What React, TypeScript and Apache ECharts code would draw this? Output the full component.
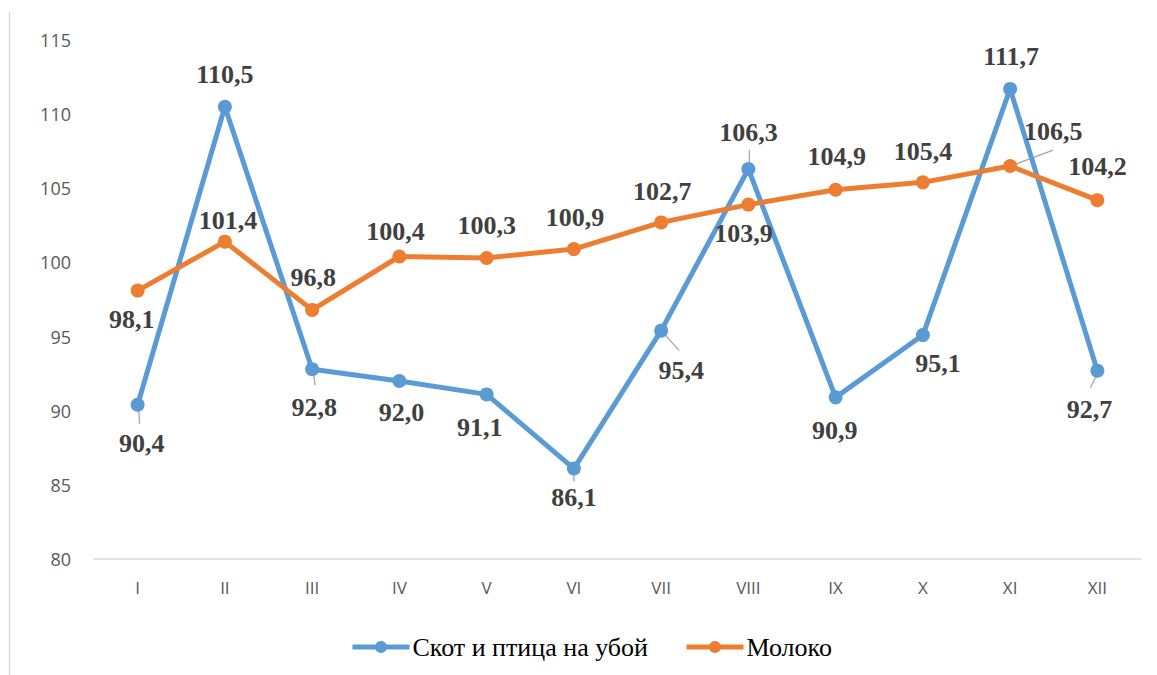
import React, { useEffect, useRef } from "react";
import * as echarts from "echarts";

const categories = ["I", "II", "III", "IV", "V", "VI", "VII", "VIII", "IX", "X", "XI", "XII"];
const livestock = [90.4, 110.5, 92.8, 92.0, 91.1, 86.1, 95.4, 106.3, 90.9, 95.1, 111.7, 92.7];
const milk = [98.1, 101.4, 96.8, 100.4, 100.3, 100.9, 102.7, 103.9, 104.9, 105.4, 106.5, 104.2];
const seriesNames = ["Скот и птица на убой", "Молоко"];
const yMin = 80;
const yMax = 115;
const yStep = 5;

// label placement (pixel offsets of the label centre from its point)
const livestockLabelOffsets = [
  [4, 39], [0, -32], [2, 38], [2, 31], [-7, 33], [0, 29],
  [20, 40], [0, -37], [-1, 33], [15, 28], [1, -32], [-8, 39],
];
const milkLabelOffsets = [
  [-6, 29], [3, -21], [1, -32], [-4, -25], [0, -32], [1, -32],
  [1, -31], [-5, 29], [1, -33], [0, -31], [43, -35], [0, -34],
];
// leader lines relative to the point: [x1, y1, x2, y2]
const livestockLeaders: (number[] | null)[] = [
  [1, 3, 2, 19], null, [1, 2, 3, 16], null, null, [0, 3, 0, 13],
  [2, 2, 18, 20], [1, -19, 1, -3], null, null, null, [0, 3, -7, 17],
];
const milkLeaders: (number[] | null)[] = [
  null, null, null, null, null, null, null, null, null, null, [3, -1, 43, -16], null,
];

const BLUE = "#5B9BD5";
const ORANGE = "#ED7D31";
const SERIF = "'Liberation Serif', 'Times New Roman', serif";
const SANS = "'Open Sans', 'Noto Sans', sans-serif";

function lineSeries(name: string, values: number[], color: string, offsets: number[][]) {
  return {
    name,
    type: "line",
    data: values.map((v, i) => ({
      value: v,
      label: { offset: offsets[i] },
    })),
    symbol: "circle",
    symbolSize: 14,
    lineStyle: { color, width: 5 },
    itemStyle: { color },
    label: {
      show: true,
      position: "inside",
      formatter: (p: any) => Number(p.value).toFixed(1).replace(".", ","),
      fontFamily: SERIF,
      fontWeight: "bold",
      fontSize: 26,
      color: "#404040",
    },
    z: 3,
  };
}

function leaderSeries(values: number[], leaders: (number[] | null)[]) {
  return {
    type: "custom",
    data: values.map((v, i) => [i, v]),
    z: 2,
    silent: true,
    renderItem: (params: any, api: any) => {
      const L = leaders[params.dataIndex];
      if (!L) return null;
      const p = api.coord([api.value(0), api.value(1)]);
      return {
        type: "line",
        shape: { x1: p[0] + L[0], y1: p[1] + L[1], x2: p[0] + L[2], y2: p[1] + L[3] },
        style: { stroke: "#A6A6A6", lineWidth: 1.3 },
      };
    },
  };
}

export default function App() {
  const ref = useRef<HTMLDivElement>(null);
  useEffect(() => {
    if (!ref.current) return;
    const chart = echarts.init(ref.current, undefined, { renderer: "svg" });
    chart.setOption({
      animation: false,
      backgroundColor: "#ffffff",
      grid: { left: 94, right: 16, top: 40, bottom: 116, containLabel: false },
      graphic: [
        {
          type: "line",
          shape: { x1: 9.5, y1: 12, x2: 9.5, y2: 675 },
          style: { stroke: "#D9D9D9", lineWidth: 1.5 },
        },
      ],
      legend: {
        data: seriesNames,
        left: 345,
        top: 629,
        itemWidth: 57,
        itemHeight: 15,
        itemGap: 36,
        lineStyle: { width: 5 },
        textStyle: { fontFamily: SERIF, fontSize: 26, color: "#000000", padding: [0, 0, 0, -2] },
      },
      xAxis: {
        type: "category",
        data: categories,
        boundaryGap: true,
        axisLine: { lineStyle: { color: "#D9D9D9", width: 1.5 } },
        axisTick: { show: false },
        axisLabel: { fontFamily: SANS, fontSize: 17, color: "#595959", margin: 20 },
      },
      yAxis: {
        type: "value",
        min: yMin,
        max: yMax,
        interval: yStep,
        splitLine: { show: false },
        axisLine: { show: false },
        axisTick: { show: false },
        axisLabel: { fontFamily: SANS, fontSize: 18, color: "#595959", margin: 23 },
      },
      series: [
        leaderSeries(livestock, livestockLeaders),
        leaderSeries(milk, milkLeaders),
        lineSeries(seriesNames[0], livestock, BLUE, livestockLabelOffsets),
        lineSeries(seriesNames[1], milk, ORANGE, milkLabelOffsets),
      ],
    });
    return () => chart.dispose();
  }, []);
  return (
    <div
      ref={ref}
      style={{ position: "absolute", left: 0, top: 0, width: 1157, height: 675 }}
    />
  );
}
